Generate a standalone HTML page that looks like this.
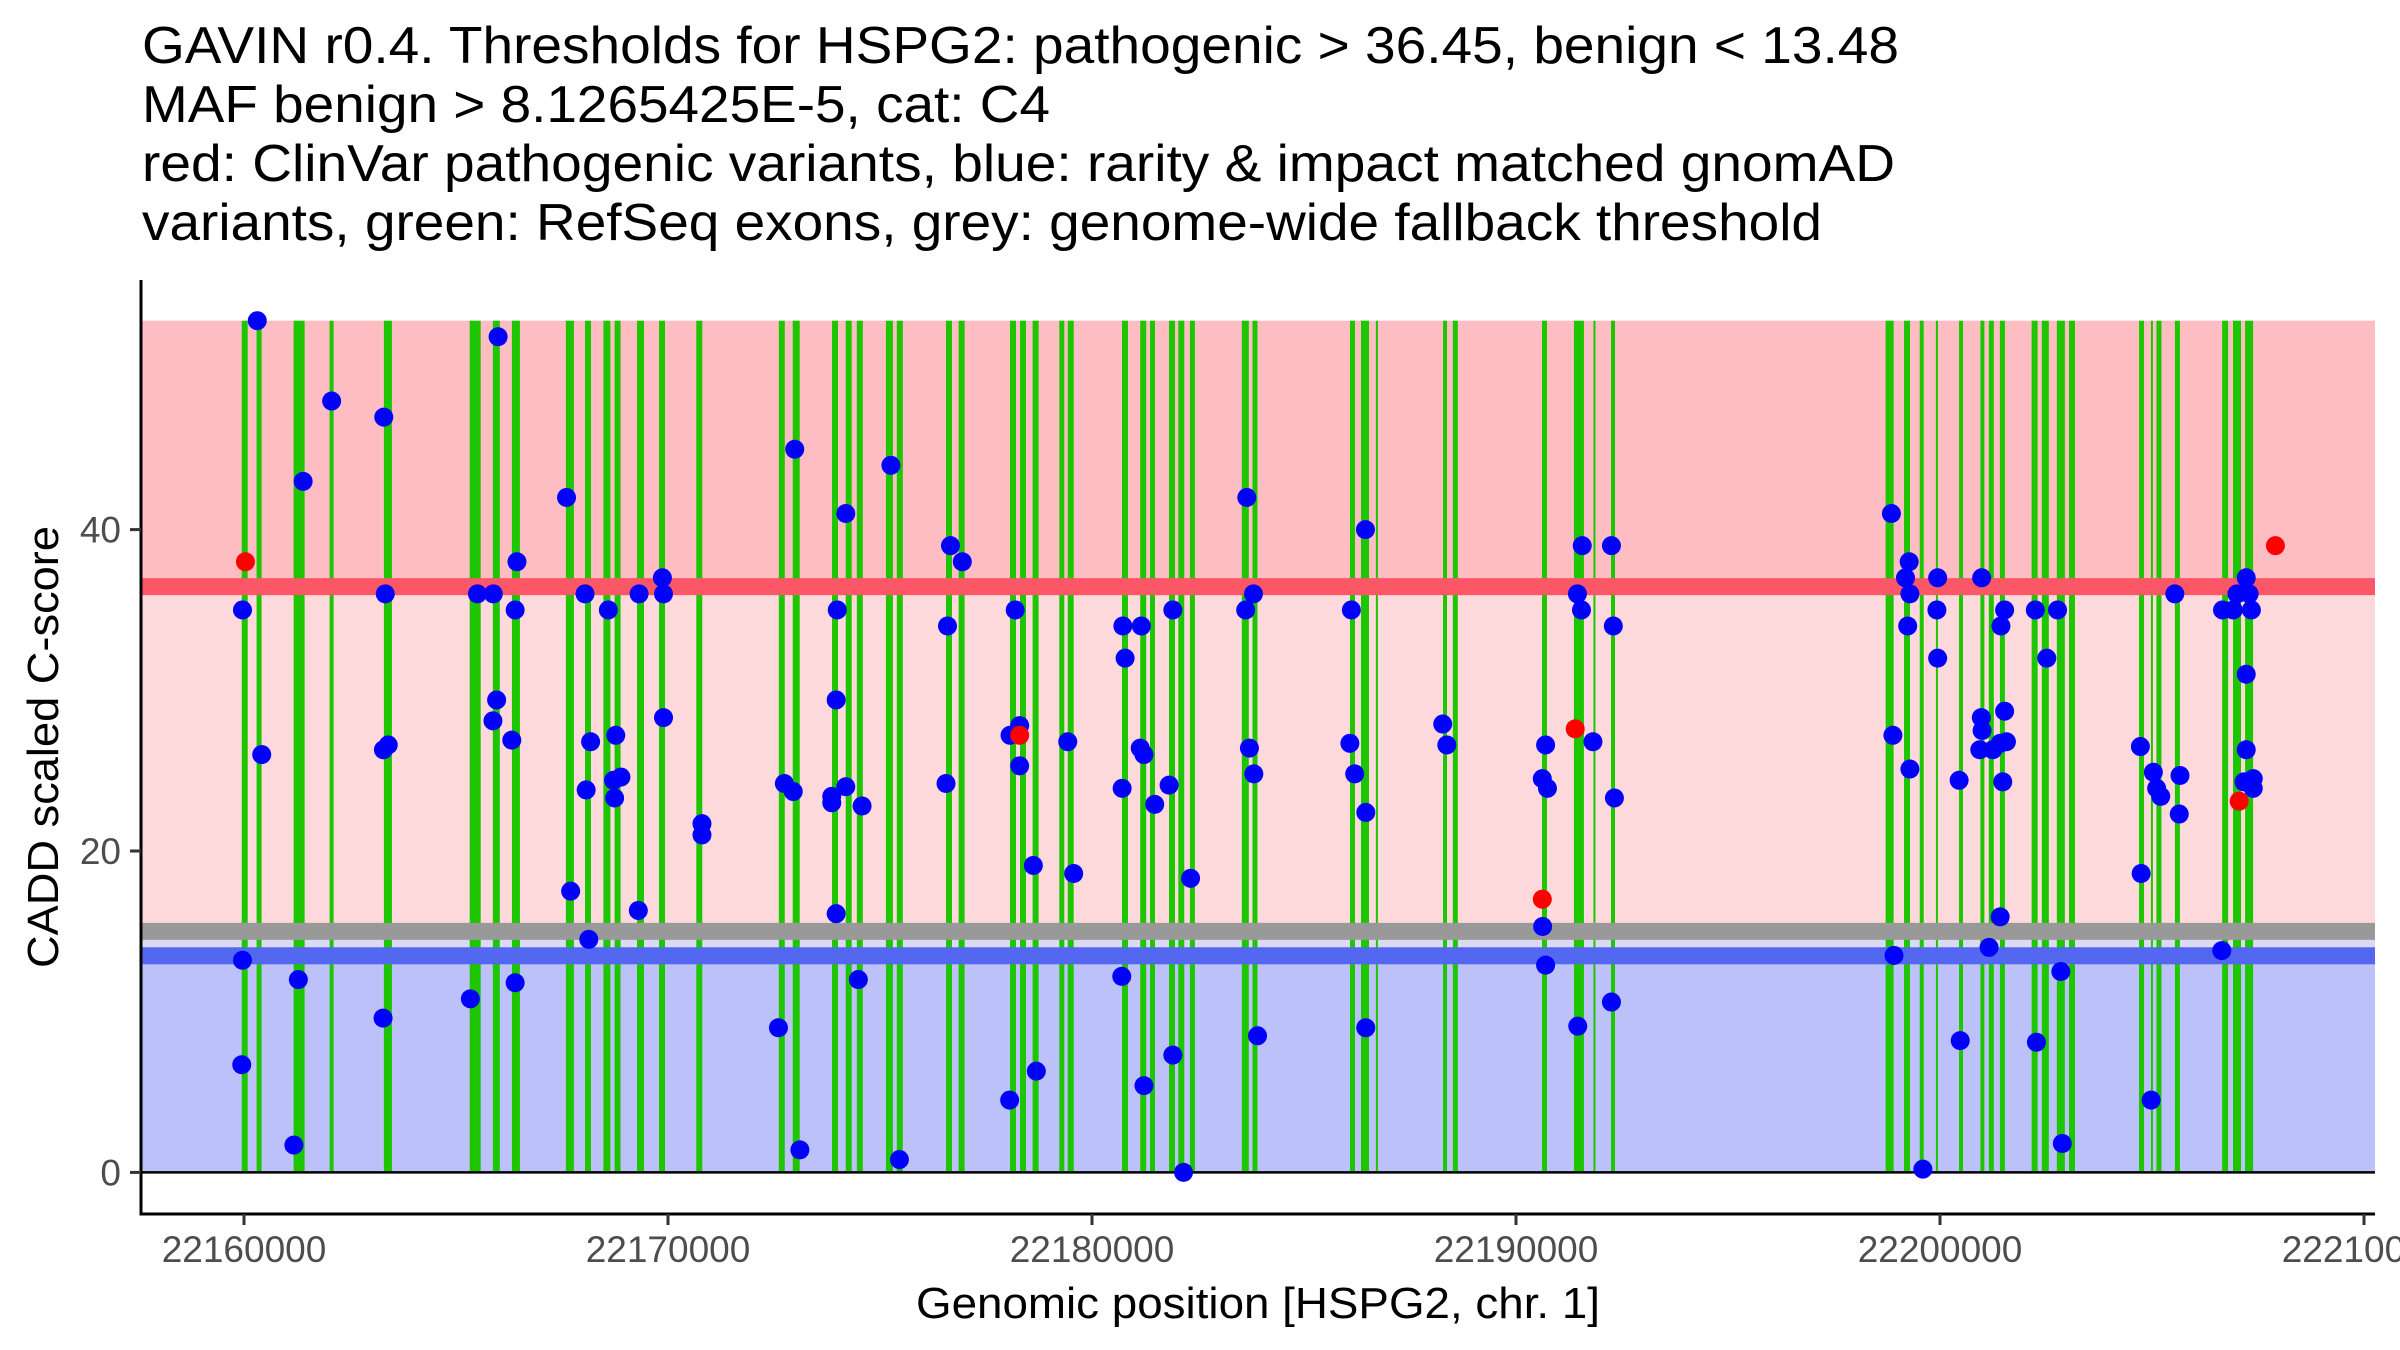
<!DOCTYPE html>
<html><head><meta charset="utf-8">
<style>
html,body{margin:0;padding:0;background:#fff;}
svg{display:block;font-family:"Liberation Sans",Arial,sans-serif;}
</style></head>
<body>
<svg id="chart" width="2400" height="1350" viewBox="0 0 2400 1350" xmlns="http://www.w3.org/2000/svg">
  <g font-size="52" fill="#000">
    <text x="142" y="63" textLength="1757" lengthAdjust="spacingAndGlyphs">GAVIN r0.4. Thresholds for HSPG2: pathogenic &gt; 36.45, benign &lt; 13.48</text>
    <text x="142" y="122" textLength="908" lengthAdjust="spacingAndGlyphs">MAF benign &gt; 8.1265425E-5, cat: C4</text>
    <text x="142" y="181" textLength="1753" lengthAdjust="spacingAndGlyphs">red: ClinVar pathogenic variants, blue: rarity &amp; impact matched gnomAD</text>
    <text x="142" y="240" textLength="1680" lengthAdjust="spacingAndGlyphs">variants, green: RefSeq exons, grey: genome-wide fallback threshold</text>
  </g>
  <g id="bands"></g>
  <g id="exons"></g>
  <g id="hlines"></g>
  <g id="points"></g>
  <g id="axes"></g>
  <text x="1258" y="1318" font-size="44" text-anchor="middle" textLength="684" lengthAdjust="spacingAndGlyphs" fill="#000">Genomic position [HSPG2, chr. 1]</text>
  <text transform="translate(58,747) rotate(-90)" font-size="44" text-anchor="middle" textLength="442" lengthAdjust="spacingAndGlyphs" fill="#000">CADD scaled C-score</text>
</svg>
<script>
// ---- data ----
const pathogenicThreshold = 36.45;
const benignThreshold = 13.48;
const fallbackThreshold = 15.0;
const bandTop = 53;
const xTicks = [22160000, 22170000, 22180000, 22190000, 22200000, 22210000];
const xTickLabels = ["22160000", "22170000", "22180000", "22190000", "22200000", "22210000"];
const yTicks = [0, 20, 40];
const yTickLabels = ["0", "20", "40"];
// exon centers (offset from 22160000 bp) and widths (bp)
const exonCenters = [17,356,1300,2066,3394,5453,5951,6413,7686,8113,8559,8811,9351,9859,10738,12684,13024,13939,14262,14524,15222,15467,16627,16925,18137,18373,18670,19288,19498,20778,21208,21427,21887,22106,22368,23616,23844,26144,26439,26719,28326,28569,30672,31484,31850,32288,38812,39222,39569,39927,40496,41000,41210,41472,42232,42484,42850,43113,44753,44998,45164,45599,46725,47005,47290];
const exonWidths = [141,118,259,94,189,259,165,189,189,141,165,141,165,141,141,141,165,141,141,141,165,141,141,141,141,141,141,118,141,141,141,118,141,141,118,165,118,118,189,47,94,118,118,236,47,94,189,141,94,47,94,94,118,118,141,165,189,141,118,47,118,118,141,189,189];
// gnomAD (blue) variants: position offset from 22160000, CADD score
const benignPos = [313,5993,2067,3297,1395,7607,6438,9867,3332,5505,5880,8043,9318,9894,-36,6395,8593,5958,5871,8768,9894,6316,8175,418,3402,3288,8070,8716,8890,8741,10801,10801,7704,9300,8132,-36,1282,6395,5339,3280,-53,1177,
12989,15257,14193,23651,16662,16941,23808,13992,18189,21906,23625,16592,20728,21164,20781,13966,18294,18067,18294,19428,21138,21226,23713,23817,12744,12954,13862,13862,14193,14577,16557,20711,21819,21479,18617,19568,22325,13966,14489,20702,12605,23904,21906,18687,18058,21226,13111,15458,22159,
26449,31562,32251,31448,31544,26117,32295,31815,28272,28368,26082,30698,26196,30620,30742,26457,32321,30628,30698,26457,31457,32251,
38854,39273,39186,39290,39945,40983,45538,47222,47003,47292,39238,39927,41524,41437,42248,42772,46663,46916,47344,39945,42519,47222,40974,40992,41524,38889,40939,41245,41419,41567,47222,39290,40451,41480,44726,45032,45110,45206,45660,45643,47170,47388,47388,44744,41419,41157,38915,46646,42850,40477,42274,44979,42885,39596];
const benignScore = [53.0,52.0,48.0,47.0,43.0,42.0,38.0,37.0,36.0,36.0,36.0,36.0,36.0,36.0,35.0,35.0,35.0,29.4,28.1,27.2,28.3,26.9,26.8,26.0,26.6,26.3,23.8,24.4,24.6,23.3,21.7,21.0,17.5,16.3,14.5,13.2,12.0,11.8,10.8,9.6,6.7,1.7,
45.0,44.0,41.0,42.0,39.0,38.0,36.0,35.0,35.0,35.0,35.0,34.0,34.0,34.0,32.0,29.4,27.8,27.2,25.3,26.8,26.4,26.0,26.4,24.8,24.2,23.7,23.4,23.0,24.0,22.8,24.2,23.9,24.1,22.9,19.1,18.6,18.3,16.1,12.0,12.2,9.0,8.5,7.3,6.3,4.5,5.4,1.4,0.8,0.0,
40.0,39.0,39.0,36.0,35.0,35.0,34.0,26.8,27.9,26.6,26.7,26.6,24.8,24.5,23.9,22.4,23.3,15.3,12.9,9.0,9.1,10.6,
41.0,38.0,37.0,36.0,37.0,37.0,36.0,37.0,36.0,36.0,34.0,35.0,35.0,34.0,35.0,35.0,35.0,35.0,35.0,32.0,32.0,31.0,28.3,27.5,28.7,27.2,26.3,26.3,26.7,26.8,26.3,25.1,24.4,24.3,26.5,24.9,23.9,23.4,24.7,22.3,24.3,24.5,23.9,18.6,15.9,14.0,13.5,13.8,12.5,8.2,8.1,4.5,1.8,0.2];
// ClinVar pathogenic (red) variants
const pathoPos = [34,18294,31396,30620,47911,47056];
const pathoScore = [38.0,27.2,27.6,17.0,39.0,23.1];

// ---- scales ----
const BASE = 22160000;
const PX0 = 244, PXPERBP = 0.0424;
const plotL = 141, plotR = 2375, plotT = 280, plotB = 1214;
const Y0 = 1172.4, PXPERUNIT = 16.07;
function xScale(bp){ return PX0 + (bp - BASE) * PXPERBP; }
function yScale(v){ return Y0 - v * PXPERUNIT; }
const NS = "http://www.w3.org/2000/svg";
function mk(tag, attrs, parent){
  const e = document.createElementNS(NS, tag);
  for (const k in attrs) e.setAttribute(k, attrs[k]);
  parent.appendChild(e);
  return e;
}

// bands
const bands = document.getElementById('bands');
let r;
r = mk('rect', {x:plotL, y:yScale(bandTop), width:plotR-plotL, height:yScale(pathogenicThreshold)-yScale(bandTop), fill:'#FDBDC2'}, bands);


r = mk('rect', {x:plotL, y:yScale(pathogenicThreshold), width:plotR-plotL, height:yScale(benignThreshold)-yScale(pathogenicThreshold), fill:'#FED9DC'}, bands);


r = mk('rect', {x:plotL, y:yScale(fallbackThreshold), width:plotR-plotL, height:yScale(benignThreshold)-yScale(fallbackThreshold), fill:'#DCDAF3'}, bands);


r = mk('rect', {x:plotL, y:yScale(benignThreshold), width:plotR-plotL, height:yScale(0)-yScale(benignThreshold), fill:'#BDC1F9'}, bands);



// horizontal threshold lines
const hl = document.getElementById('hlines');
r = mk('rect', {x:plotL, y:yScale(pathogenicThreshold)-8.5, width:plotR-plotL, height:17, fill:'#FB5766'}, hl);


r = mk('rect', {x:plotL, y:yScale(fallbackThreshold)-8.5, width:plotR-plotL, height:17, fill:'#999999'}, hl);


r = mk('rect', {x:plotL, y:yScale(benignThreshold)-8.5, width:plotR-plotL, height:17, fill:'#5467F0'}, hl);



// exons
const ex = document.getElementById('exons');
for (let i = 0; i < exonCenters.length; i++){
  const c = BASE + exonCenters[i];
  const x1 = xScale(c - exonWidths[i]/2), x2 = xScale(c + exonWidths[i]/2);
  const e = mk('rect', {x:x1, y:yScale(bandTop), width:Math.max(2, x2-x1), height:yScale(0)-yScale(bandTop), fill:'#1DC600'}, ex);
  
  
}

// zero line
const zl = mk('line', {x1:plotL, x2:plotR, y1:yScale(0), y2:yScale(0), stroke:'#000', 'stroke-width':2.5}, hl);



// points
const pts = document.getElementById('points');
for (let i = 0; i < benignPos.length; i++){
  const p = mk('circle', {cx:xScale(BASE+benignPos[i]), cy:yScale(benignScore[i]), r:9.5, fill:'#0000FF'}, pts);
  
  
}
for (let i = 0; i < pathoPos.length; i++){
  const p = mk('circle', {cx:xScale(BASE+pathoPos[i]), cy:yScale(pathoScore[i]), r:9.5, fill:'#FF0000'}, pts);
  
  
}

// axes
const ax = document.getElementById('axes');
let a = mk('line', {x1:plotL, x2:plotL, y1:plotT, y2:plotB+1.5, stroke:'#000', 'stroke-width':3}, ax);


a = mk('line', {x1:plotL-1.5, x2:plotR, y1:plotB, y2:plotB, stroke:'#000', 'stroke-width':3}, ax);


for (let i = 0; i < xTicks.length; i++){
  const x = xScale(xTicks[i]);
  const t = mk('line', {x1:x, x2:x, y1:plotB, y2:plotB+11, stroke:'#333', 'stroke-width':3}, ax);
  
  
  const l = mk('text', {x:x, y:1262, 'font-size':37, 'text-anchor':'middle', fill:'#4d4d4d'}, ax);
  l.textContent = xTickLabels[i];
  
  
}
for (let i = 0; i < yTicks.length; i++){
  const y = yScale(yTicks[i]);
  const t = mk('line', {x1:plotL-11, x2:plotL, y1:y, y2:y, stroke:'#333', 'stroke-width':3}, ax);
  
  
  const l = mk('text', {x:plotL-20, y:y+13, 'font-size':37, 'text-anchor':'end', fill:'#4d4d4d'}, ax);
  l.textContent = yTickLabels[i];
  
  
}
</script>
</body></html>
